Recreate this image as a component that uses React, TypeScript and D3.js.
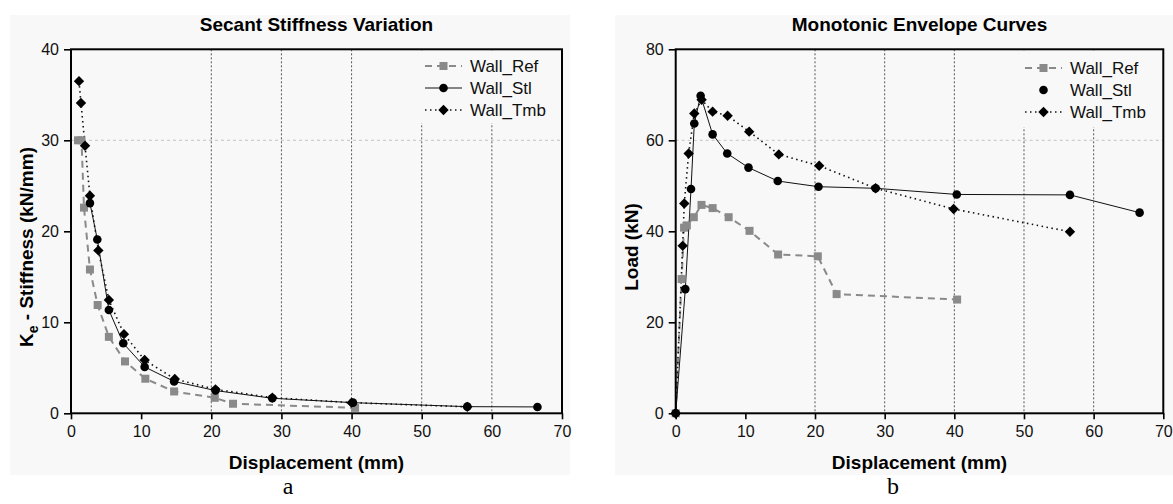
import React, { useEffect, useRef } from 'react';
import * as d3 from 'd3';

// displacement (mm) / value pairs
const stiffRef = [[1.0, 30.0], [1.5, 30.0], [1.85, 22.6], [2.7, 15.8], [3.8, 11.9], [5.4, 8.4], [7.7, 5.7], [10.6, 3.8], [14.7, 2.4], [20.5, 1.7], [23.1, 1.05], [40.5, 0.6]];
const stiffStl = [[2.7, 23.1], [3.75, 19.1], [5.4, 11.35], [7.45, 7.7], [10.5, 5.1], [14.7, 3.5], [20.6, 2.5], [28.7, 1.65], [40.2, 1.17], [56.5, 0.73], [66.5, 0.7]];
const stiffTmb = [[1.14, 36.5], [1.42, 34.1], [2.0, 29.4], [2.7, 23.9], [3.9, 17.9], [5.4, 12.45], [7.55, 8.7], [10.5, 5.85], [14.8, 3.77], [20.6, 2.63], [28.7, 1.72], [40.0, 1.17], [56.5, 0.71]];

const loadRef = [[0, 0], [0.85, 29.5], [1.2, 40.8], [1.6, 41.3], [2.6, 43.1], [3.7, 45.8], [5.3, 45.1], [7.6, 43.1], [10.6, 40.1], [14.7, 34.9], [20.4, 34.5], [23.1, 26.2], [40.4, 25.0]];
const loadStl = [[0, 0], [1.38, 27.3], [2.2, 49.3], [2.67, 63.7], [3.58, 69.8], [5.3, 61.3], [7.4, 57.1], [10.45, 54.0], [14.65, 51.05], [20.5, 49.8], [28.7, 49.45], [40.35, 48.1], [56.6, 48.0], [66.6, 44.1]];
const loadTmb = [[0, 0], [1.0, 36.8], [1.23, 46.1], [1.86, 57.1], [2.67, 65.9], [3.72, 68.9], [5.3, 66.3], [7.45, 65.4], [10.55, 61.9], [14.8, 56.9], [20.6, 54.4], [28.7, 49.45], [39.9, 44.9], [56.6, 39.9]];

const seriesNames = ['Wall_Ref', 'Wall_Stl', 'Wall_Tmb'];
const xTicks = [0, 10, 20, 30, 40, 50, 60, 70];
const xGrid = [20, 30, 40, 50, 60];

const FONT = "Arial, 'Liberation Sans', sans-serif";
const BG = '#f8f8f8';

const styles = [
    { stroke: '#8a8a8a', width: 2, dash: '7,5', marker: 'square', fill: '#8a8a8a' },
    { stroke: '#111', width: 1, dash: null, marker: 'circle', fill: '#000' },
    { stroke: '#111', width: 1.6, dash: '1.5,3.5', marker: 'diamond', fill: '#000' },
];

const drawMarker = (g, kind, fill, cx, cy) => {
    if (kind === 'square') {
        g.append('rect').attr('x', cx - 4).attr('y', cy - 4).attr('width', 8).attr('height', 8).attr('fill', fill);
    } else if (kind === 'circle') {
        g.append('circle').attr('cx', cx).attr('cy', cy).attr('r', 4.3).attr('fill', fill);
    } else {
        const r = 5.2;
        g.append('path')
            .attr('d', `M${cx},${cy - r}L${cx + r},${cy}L${cx},${cy + r}L${cx - r},${cy}Z`)
            .attr('fill', fill);
    }
};

const drawPanel = (svg, opts) => {
    const { left, right, title, yMax, yTicks, yGridAt, series, yLabel, legendX, legendY, legendBox, stlLineInLegend, bg, letter, letterX } = opts;
    const top = 49.3, bottom = 413.3;
    const x = d3.scaleLinear().domain([0, 70]).range([left, right]);
    const y = d3.scaleLinear().domain([0, yMax]).range([bottom, top]);

    // faint paper background of the figure
    svg.append('rect').attr('x', bg[0]).attr('y', 15).attr('width', bg[1] - bg[0]).attr('height', 460).attr('fill', BG);

    // grid
    svg.append('line')
        .attr('x1', left).attr('x2', right).attr('y1', y(yGridAt)).attr('y2', y(yGridAt))
        .attr('stroke', '#c4c4c4').attr('stroke-dasharray', '3,3');
    xGrid.forEach(v => {
        svg.append('line')
            .attr('x1', x(v)).attr('x2', x(v)).attr('y1', top).attr('y2', bottom)
            .attr('stroke', '#444').attr('stroke-width', 0.9).attr('stroke-dasharray', '2,2');
    });

    // legend box covers grid
    svg.append('rect').attr('x', legendBox[0]).attr('y', top + 1).attr('width', legendBox[1] - legendBox[0]).attr('height', legendBox[2] - top)
        .attr('fill', BG);

    // series
    const line = d3.line().x(d => x(d[0])).y(d => y(d[1]));
    series.forEach((data, i) => {
        const s = styles[i];
        svg.append('path')
            .datum(data)
            .attr('d', line)
            .attr('fill', 'none')
            .attr('stroke', s.stroke)
            .attr('stroke-width', s.width)
            .attr('stroke-dasharray', s.dash);
    });
    series.forEach((data, i) => {
        const s = styles[i];
        const g = svg.append('g');
        data.forEach(d => drawMarker(g, s.marker, s.fill, x(d[0]), y(d[1])));
    });

    // frame
    svg.append('rect').attr('x', left).attr('y', top).attr('width', right - left).attr('height', bottom - top)
        .attr('fill', 'none').attr('stroke', '#000').attr('stroke-width', 2);

    // axes
    const xAxis = svg.append('g').attr('transform', `translate(0,${bottom})`)
        .call(d3.axisBottom(x).tickValues(xTicks).tickSize(6).tickPadding(6));
    const yAxis = svg.append('g').attr('transform', `translate(${left},0)`)
        .call(d3.axisLeft(y).tickValues(yTicks).tickSize(7).tickPadding(5));
    [xAxis, yAxis].forEach(a => {
        a.select('.domain').remove();
        a.selectAll('line').attr('stroke', '#000').attr('stroke-width', 1.6);
        a.selectAll('text').attr('font-family', FONT).attr('font-size', 16).attr('fill', '#111');
    });

    // legend
    seriesNames.forEach((name, i) => {
        const s = styles[i];
        const ly = legendY + i * 22;
        if (i !== 1 || stlLineInLegend) {
            svg.append('line')
                .attr('x1', legendX).attr('x2', legendX + 37).attr('y1', ly).attr('y2', ly)
                .attr('stroke', s.stroke).attr('stroke-width', s.width).attr('stroke-dasharray', s.dash);
        }
        drawMarker(svg, s.marker, s.fill, legendX + 18.5, ly);
        svg.append('text')
            .attr('x', legendX + 45).attr('y', ly + 6)
            .attr('font-family', FONT).attr('font-size', 17).attr('fill', '#111')
            .text(name);
    });

    // titles
    svg.append('text')
        .attr('x', (left + right) / 2).attr('y', 31)
        .attr('text-anchor', 'middle').attr('font-family', FONT).attr('font-weight', 'bold').attr('font-size', 19)
        .text(title);
    svg.append('text')
        .attr('x', (left + right) / 2).attr('y', 469)
        .attr('text-anchor', 'middle').attr('font-family', FONT).attr('font-weight', 'bold').attr('font-size', 19)
        .text('Displacement (mm)');
    const yl = svg.append('text')
        .attr('transform', `translate(${left - 38},247) rotate(-90)`)
        .attr('text-anchor', 'middle').attr('font-family', FONT).attr('font-weight', 'bold').attr('font-size', 19);
    yLabel(yl);

    svg.append('text')
        .attr('x', letterX).attr('y', 494)
        .attr('text-anchor', 'middle').attr('font-family', "'Liberation Serif', 'Times New Roman', serif").attr('font-size', 24)
        .text(letter);
};

const App = () => {
    const svgRef = useRef();

    useEffect(() => {
        const svg = d3.select(svgRef.current);
        svg.selectAll('*').remove();
        svg.append('rect').attr('width', 1173).attr('height', 504).attr('fill', '#fff');

        drawPanel(svg, {
            left: 71, right: 562, title: 'Secant Stiffness Variation',
            yMax: 40, yTicks: [0, 10, 20, 30, 40], yGridAt: 30,
            series: [stiffRef, stiffStl, stiffTmb],
            yLabel: t => {
                t.append('tspan').text('K');
                t.append('tspan').attr('font-size', 14).attr('dy', 5).text('e');
                t.append('tspan').attr('dy', -5).text(' - Stiffness (kN/mm)');
            },
            legendX: 425, legendY: 66, legendBox: [405, 561, 122], stlLineInLegend: true,
            bg: [10, 570], letter: 'a', letterX: 288,
        });

        drawPanel(svg, {
            left: 675.7, right: 1163.3, title: 'Monotonic Envelope Curves',
            yMax: 80, yTicks: [0, 20, 40, 60, 80], yGridAt: 60,
            series: [loadRef, loadStl, loadTmb],
            yLabel: t => t.text('Load (kN)'),
            legendX: 1025, legendY: 68, legendBox: [1005, 1162, 126], stlLineInLegend: false,
            bg: [615, 1173], letter: 'b', letterX: 893,
        });
    }, []);

    return (
        <svg ref={svgRef} width="1173" height="504" style={{ position: 'absolute', left: 0, top: 0 }}></svg>
    );
};

export default App;
